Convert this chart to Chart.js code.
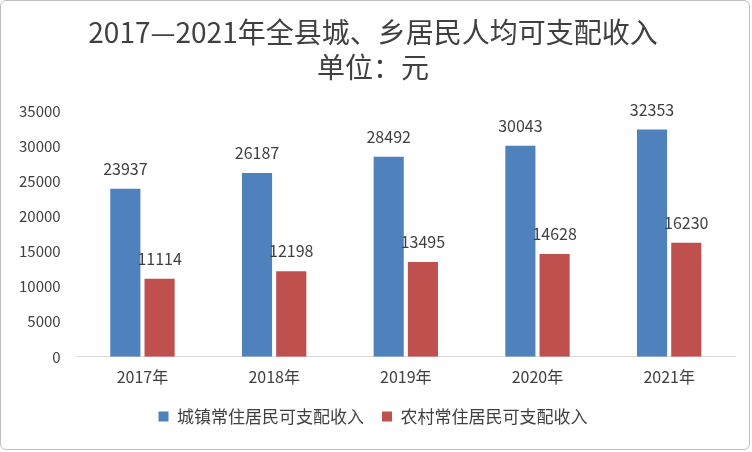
<!DOCTYPE html>
<html>
<head>
<meta charset="utf-8">
<script src="https://cdn.jsdelivr.net/npm/chart.js@4"></script>
<style>
  body { margin: 0; background: #fff; }
  #wrap { width: 750px; height: 450px; border: 1px solid #bfbfbf; border-radius: 6px; box-sizing: border-box; position: relative; }
</style>
</head>
<body>
<div id="wrap"><canvas id="chart" width="748" height="448"></canvas></div>
<script>
'use strict';

var years = ['2017年', '2018年', '2019年', '2020年', '2021年'];
var urban = [23937, 26187, 28492, 30043, 32353];
var rural = [11114, 12198, 13495, 14628, 16230];
var yTicks = [0, 5000, 10000, 15000, 20000, 25000, 30000, 35000];

var fontName = '"Noto Sans CJK SC", "Liberation Sans", sans-serif';

// labels over each bar
var barLabels = {
  id: 'barLabels',
  afterDatasetsDraw: function (chart) {
    var ctx = chart.ctx;
    ctx.save();
    ctx.font = '16px ' + fontName;
    ctx.fillStyle = '#404040';
    ctx.textAlign = 'center';
    ctx.textBaseline = 'bottom';
    chart.data.datasets.forEach(function (ds, i) {
      chart.getDatasetMeta(i).data.forEach(function (bar, j) {
        ctx.fillText(ds.data[j], bar.x, bar.y - 12);
      });
    });
    ctx.restore();
  }
};

var ctx = document.getElementById('chart').getContext('2d');
var chart = new Chart(ctx, {
  type: 'bar',
  data: {
    labels: years,
    datasets: [
      { label: '城镇常住居民可支配收入', data: urban, backgroundColor: '#4F81BD',
        categoryPercentage: 0.52, barPercentage: 0.88 },
      { label: '农村常住居民可支配收入', data: rural, backgroundColor: '#C0504D',
        categoryPercentage: 0.52, barPercentage: 0.88 }
    ]
  },
  options: {
    responsive: false,
    animation: false,
    layout: { padding: { left: 10, right: 14, top: 6, bottom: 14 } },
    plugins: {
      title: {
        display: true,
        text: ['2017—2021年全县城、乡居民人均可支配收入', '单位：元'],
        color: '#404040',
        font: { family: fontName, size: 28, weight: 'normal', lineHeight: 1.25 },
        padding: { top: 8, bottom: 26 }
      },
      legend: {
        position: 'bottom',
        labels: {
          color: '#404040',
          font: { family: fontName, size: 17 },
          boxWidth: 10, boxHeight: 10, padding: 18
        }
      },
      tooltip: { enabled: false }
    },
    scales: {
      x: {
        grid: { display: false },
        border: { color: '#d9d9d9' },
        ticks: { color: '#404040', font: { family: fontName, size: 16 } }
      },
      y: {
        min: 0, max: 35000,
        afterBuildTicks: function (axis) {
          axis.ticks = yTicks.map(function (v) { return { value: v }; });
        },
        grid: { display: false },
        border: { display: false },
        ticks: {
          color: '#404040', font: { family: fontName, size: 15 }, padding: 8,
          callback: function (v) { return String(v); }
        }
      }
    }
  },
  plugins: [barLabels]
});
</script>
</body>
</html>
